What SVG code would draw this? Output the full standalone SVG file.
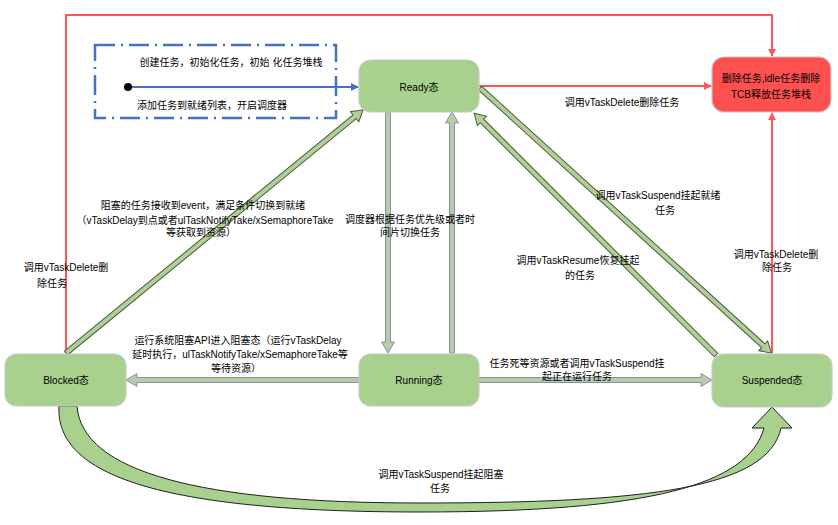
<svg xmlns="http://www.w3.org/2000/svg" width="838" height="525" viewBox="0 0 838 525">
<defs>
<style>
text{font-family:"Liberation Sans","Noto Sans CJK SC",sans-serif;font-size:10px;fill:#000;text-anchor:middle}
.node{fill:#A9D18E;stroke:#C8C8C8;stroke-width:1.2}
.red{stroke:#FF5757;stroke-width:2;fill:none}
.ga{fill:#B3CF99;stroke:#4A5A3A;stroke-width:1}
.ba{fill:#BACBA8;stroke:#7E93AD;stroke-width:1}
</style>
<marker id="rh" viewBox="0 0 10 10" refX="9" refY="5" markerWidth="4" markerHeight="4" orient="auto" markerUnits="strokeWidth"><path d="M0,0 L10,5 L0,10 Z" fill="#FF5757"/></marker>
<marker id="bh" viewBox="0 0 10 10" refX="9" refY="5" markerWidth="4" markerHeight="4" orient="auto" markerUnits="strokeWidth"><path d="M0,0 L10,5 L0,10 Z" fill="#4472C4"/></marker>
</defs>
<rect width="838" height="525" fill="#fff"/>

<g id="connectors">
<rect x="95" y="45" width="241" height="73" fill="none" stroke="#4472C4" stroke-width="2.5" stroke-dasharray="20 6 2 6"/>
<line x1="128" y1="87" x2="358" y2="87" stroke="#4472C4" stroke-width="2" marker-end="url(#bh)"/>
<circle cx="128" cy="87" r="4" fill="#000"/>
<polyline class="red" points="66,353 66,15 772,15 772,56" marker-end="url(#rh)"/>
<line class="red" x1="479" y1="86" x2="711" y2="86" marker-end="url(#rh)"/>
<line class="red" x1="772" y1="353" x2="772" y2="113" marker-end="url(#rh)"/>
<polygon class="ga" transform="translate(66,353) rotate(-39.3)" points="0,-2.5 373,-2.5 373,-6.5 384,0 373,6.5 373,2.5 0,2.5"/>
<polygon class="ba" transform="translate(388,112) rotate(90)" points="0,-2.5 230,-2.5 230,-6.5 241,0 230,6.5 230,2.5 0,2.5"/>
<polygon class="ba" transform="translate(452,353) rotate(-90)" points="0,-2.5 230,-2.5 230,-6.5 241,0 230,6.5 230,2.5 0,2.5"/>
<polygon class="ba" transform="translate(359,380) rotate(180)" points="0,-2.5 222,-2.5 222,-6.5 233,0 222,6.5 222,2.5 0,2.5"/>
<polygon class="ba" transform="translate(479,380)" points="0,-2.5 222,-2.5 222,-6.5 233,0 222,6.5 222,2.5 0,2.5"/>
<polygon class="ga" transform="translate(480,88) rotate(42.3)" points="0,-2.5 383,-2.5 383,-6.5 394,0 383,6.5 383,2.5 0,2.5"/>
<polygon class="ga" transform="translate(716,355) rotate(-135)" points="0,-2.5 331,-2.5 331,-6.5 342,0 331,6.5 331,2.5 0,2.5"/>
<path d="M59,406 C55,475 160,512 420,512 C650,512 748,485 764,428 L752,428 L772,407 L792,428 L781,428 C768,488 650,503 420,503 C200,503 82,472 77,406 Z" fill="#A9D18E" stroke="#1F1F1F" stroke-width="1"/>
</g>

<g id="ready"><rect class="node" x="359" y="60" width="120" height="52" rx="12"/><text x="419" y="91">Ready态</text></g>
<g id="delete"><rect x="712" y="57" width="119" height="55" rx="12" fill="#FF5050" stroke="#C8C8C8" stroke-width="1.2"/><text x="771" y="82">删除任务,idle任务删除</text><text x="771" y="98">TCB释放任务堆栈</text></g>
<g id="blocked"><rect class="node" x="5" y="354" width="121" height="52" rx="12"/><text x="66" y="384">Blocked态</text></g>
<g id="running"><rect class="node" x="359" y="354" width="120" height="52" rx="12"/><text x="419" y="384">Running态</text></g>
<g id="suspended"><rect class="node" x="712" y="354" width="120" height="53" rx="12"/><text x="772" y="384">Suspended态</text></g>

<g id="labels">
<text x="231" y="66">创建任务，初始化任务，初始 化任务堆栈</text>
<text x="212" y="109">添加任务到就绪列表，开启调度器</text>
<text x="622" y="106">调用vTaskDelete删除任务</text>
<text x="203" y="209">阻塞的任务接收到event，满足条件切换到就绪</text>
<text x="205" y="224">（vTaskDelay到点或者ulTaskNotifyTake/xSemaphoreTake</text>
<text x="201" y="236">等获取到资源）</text>
<text x="410" y="223">调度器根据任务优先级或者时</text>
<text x="410" y="236">间片切换任务</text>
<text x="658" y="199">调用vTaskSuspend挂起就绪</text>
<text x="665" y="214">任务</text>
<text x="578" y="264">调用vTaskResume恢复挂起</text>
<text x="580" y="279">的任务</text>
<text x="776" y="258">调用vTaskDelete删</text>
<text x="777" y="271">除任务</text>
<text x="66" y="271">调用vTaskDelete删</text>
<text x="52" y="287">除任务</text>
<text x="238" y="344">运行系统阻塞API进入阻塞态（运行vTaskDelay</text>
<text x="240" y="358">延时执行，ulTaskNotifyTake/xSemaphoreTake等</text>
<text x="236" y="372">等待资源）</text>
<text x="577" y="367">任务死等资源或者调用vTaskSuspend挂</text>
<text x="577" y="380">起正在运行任务</text>
<text x="441" y="478">调用vTaskSuspend挂起阻塞</text>
<text x="440" y="492">任务</text>
</g>
</svg>
